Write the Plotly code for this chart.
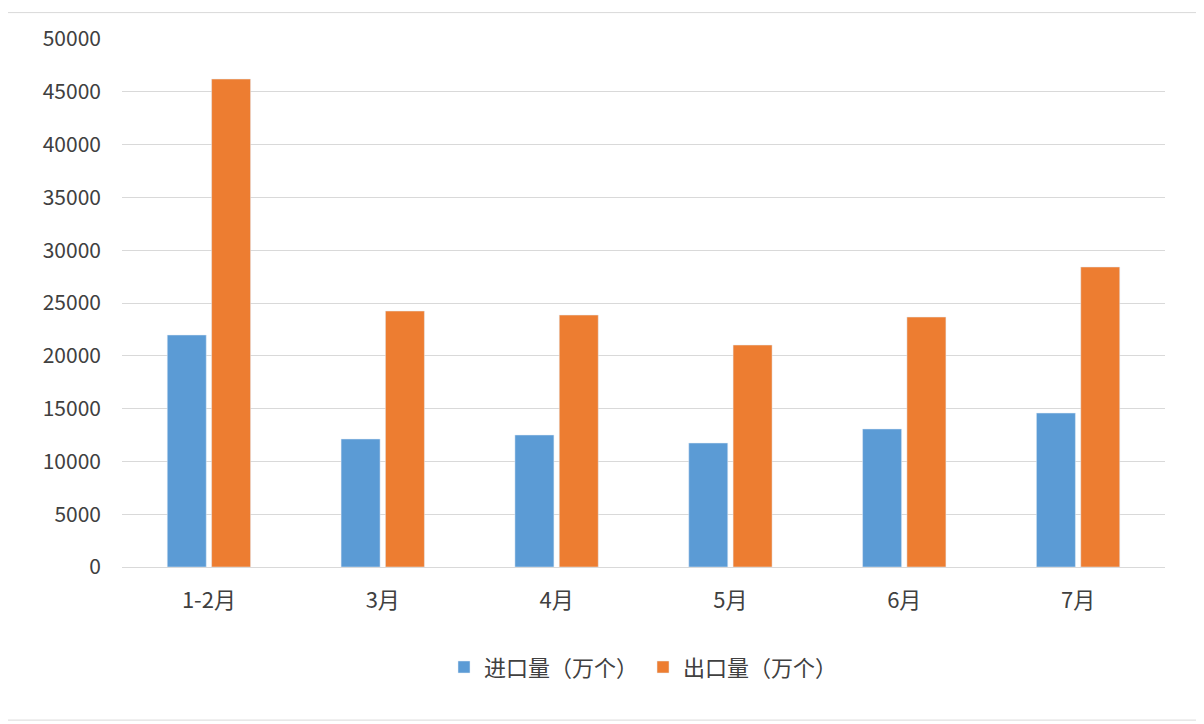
import plotly.graph_objects as go

categories = ["1-2月", "3月", "4月", "5月", "6月", "7月"]
imports = [21970, 12120, 12500, 11740, 13070, 14580]
exports = [46210, 24240, 23860, 21020, 23670, 28410]
tick_vals = list(range(0, 50001, 5000))

fig = go.Figure()
fig.add_bar(x=categories, y=imports, name="进口量（万个）", marker_color="#5B9BD5")
fig.add_bar(x=categories, y=exports, name="出口量（万个）", marker_color="#ED7D31")

font = "Noto Sans CJK SC"
fig.update_layout(
    width=1204, height=724,
    margin=dict(l=114, r=47, t=31, b=165),
    paper_bgcolor="white", plot_bgcolor="white",
    barmode="group", bargap=0.49, bargroupgap=0.12,
    font=dict(family=font, size=20, color="#404040"),
    showlegend=True,
    legend=dict(orientation="h", x=0.5, xanchor="center", y=-0.15, yanchor="top",
                font=dict(size=22), itemwidth=30),
    xaxis=dict(showgrid=False, showline=True, linecolor="#D9D9D9", ticks="",
               tickfont=dict(size=22), ticklabelstandoff=14),
    yaxis=dict(range=[0, 50000], tickvals=tick_vals,
               ticktext=[str(v) for v in tick_vals],
               gridcolor="#D9D9D9", zeroline=False, ticks="",
               tickfont=dict(size=21), ticklabelstandoff=20),
    shapes=[dict(type="rect", xref="paper", yref="paper", x0=-0.11, x1=1.045,
                 y0=-0.29, y1=1.05, line=dict(color="#D9D9D9", width=1))],
)
fig.write_html("out.html")
